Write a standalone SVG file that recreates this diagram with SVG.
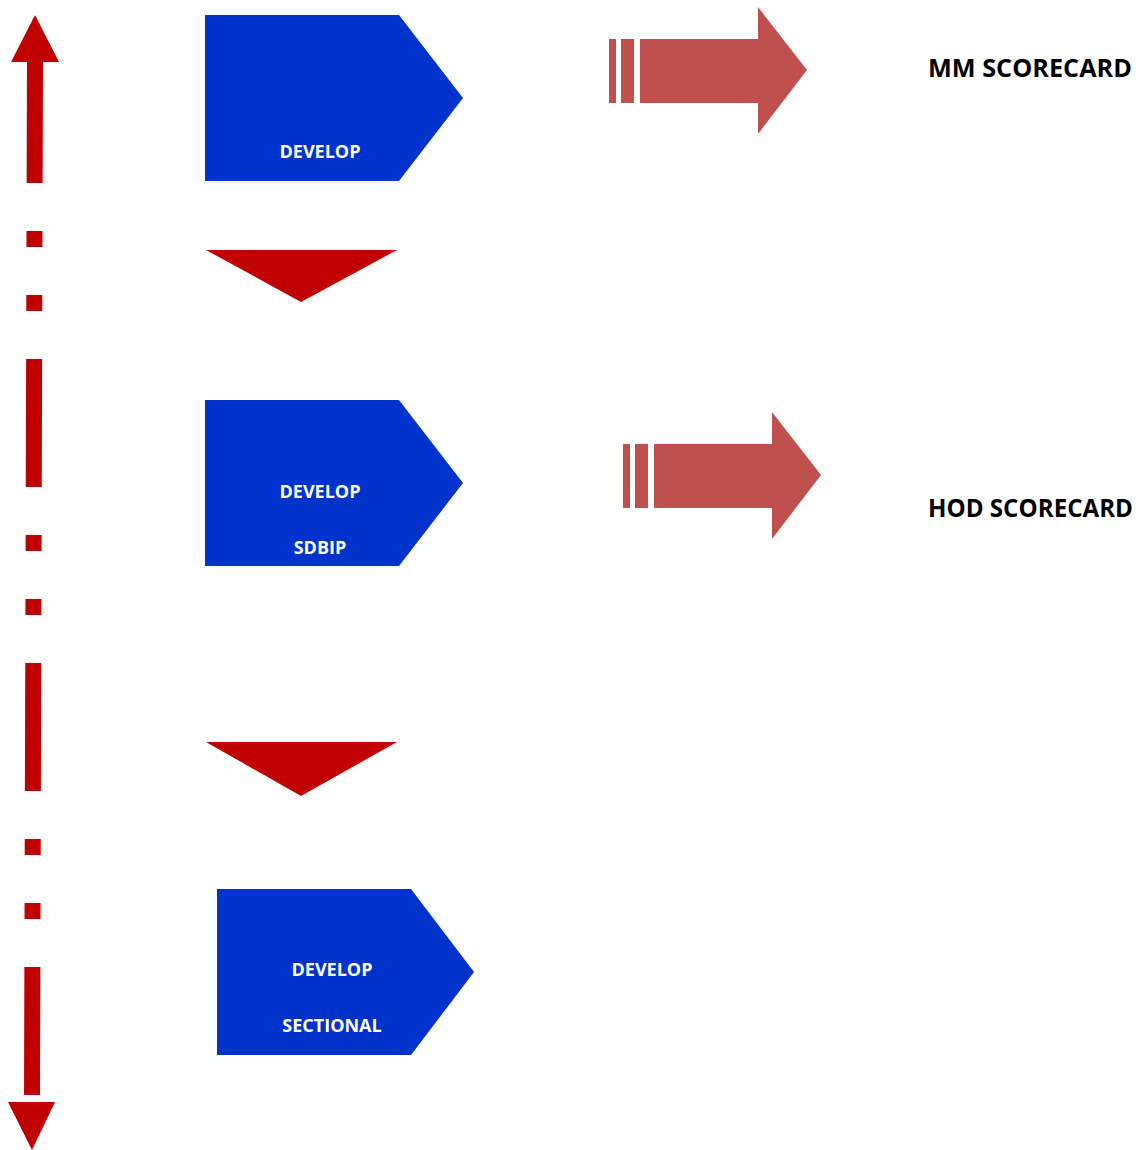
<svg xmlns="http://www.w3.org/2000/svg" width="1143" height="1150" viewBox="0 0 1143 1150">
  <style>
    .step { fill: #0033CC; }
    .step-label { fill: #FFFFFF; font-family: "Open Sans", "Liberation Sans", sans-serif; font-weight: bold; font-size: 18px; text-anchor: middle; }
    .card-label { fill: #000000; font-family: "Open Sans", "Liberation Sans", sans-serif; font-weight: bold; font-size: 25px; }
    .flow { fill: #C00000; }
    .out { fill: #C0504D; }
  </style>
  <defs>
    <!-- striped block arrow pointing right, origin at the left of its first stripe -->
    <g id="block-arrow">
      <rect x="0" y="32" width="7" height="64"/>
      <rect x="12" y="32" width="13" height="64"/>
      <polygon points="31,32 149,32 149,0 198,63 149,127 149,96 31,96"/>
    </g>
  </defs>

  <!-- vertical dash-dot timeline with arrowheads at both ends -->
  <g id="timeline">
    <line x1="35" y1="55" x2="32" y2="1095" stroke="#C00000" stroke-width="16" stroke-dasharray="128 48 16 48 16 48"/>
    <polygon class="flow" points="35,15 59,62 11,62"/>
    <polygon class="flow" points="8,1102 55,1102 32,1150"/>
  </g>

  <g id="connectors">
    <polygon class="flow" points="206,250 397,250 301,302"/>
    <polygon class="flow" points="206,742 397,742 301,796"/>
    <use href="#block-arrow" class="out" x="609" y="7"/>
    <use href="#block-arrow" class="out" x="623" y="412"/>
  </g>

  <g id="node-develop">
    <polygon class="step" points="205,15 399,15 463,98 399,181 205,181"/>
    <text class="step-label" x="320" y="158">DEVELOP</text>
  </g>

  <g id="node-sdbip">
    <polygon class="step" points="205,400 399,400 463,483 399,566 205,566"/>
    <text class="step-label" x="320" y="498">DEVELOP</text>
    <text class="step-label" x="320" y="554">SDBIP</text>
  </g>

  <g id="node-sectional">
    <polygon class="step" points="217,889 411,889 474,972 411,1055 217,1055"/>
    <text class="step-label" x="332" y="976">DEVELOP</text>
    <text class="step-label" x="332" y="1032">SECTIONAL</text>
  </g>

  <g id="mm-scorecard">
    <text class="card-label" x="928" y="77" textLength="204" lengthAdjust="spacingAndGlyphs">MM SCORECARD</text>
  </g>

  <g id="hod-scorecard">
    <text class="card-label" x="928" y="517" textLength="205" lengthAdjust="spacingAndGlyphs">HOD SCORECARD</text>
  </g>
</svg>
